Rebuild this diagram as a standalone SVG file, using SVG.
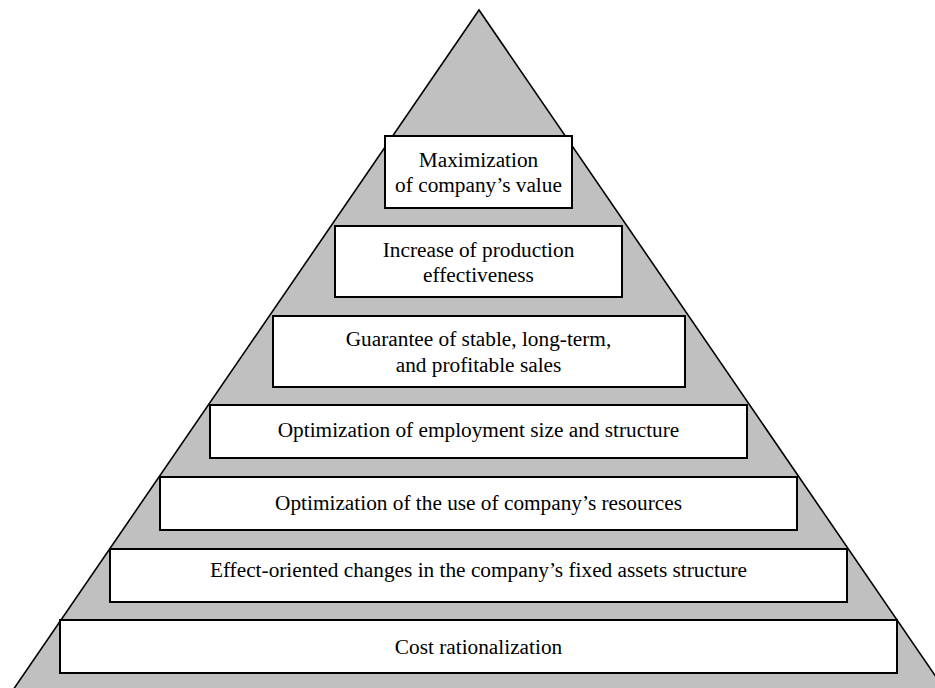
<svg xmlns="http://www.w3.org/2000/svg" width="935" height="688" viewBox="0 0 935 688">
<style>
.pyr{fill:#c0c0c0;stroke:#000;stroke-width:1.6}
.box{fill:#fff;stroke:#000;stroke-width:2}
.t{font-family:"Liberation Serif","Times New Roman",serif;font-size:21.3px;fill:#000;text-anchor:middle}
</style>
<rect width="935" height="688" fill="#fff"/>
<polygon class="pyr" points="479,10 13,690 945,690"/>
<g id="node1"><rect class="box" x="385" y="136" width="187" height="72"/><text class="t" x="478.5" y="167">Maximization</text><text class="t" x="478.5" y="192">of company’s value</text></g>
<g id="node2"><rect class="box" x="335" y="226" width="287" height="71"/><text class="t" x="478.5" y="257">Increase of production</text><text class="t" x="478.5" y="282">effectiveness</text></g>
<g id="node3"><rect class="box" x="273" y="316" width="412" height="71"/><text class="t" x="478.5" y="346">Guarantee of stable, long-term,</text><text class="t" x="478.5" y="372">and profitable sales</text></g>
<g id="node4"><rect class="box" x="210" y="405" width="537" height="53"/><text class="t" x="478.5" y="437">Optimization of employment size and structure</text></g>
<g id="node5"><rect class="box" x="160" y="477" width="637" height="53"/><text class="t" x="478.5" y="510">Optimization of the use of company’s resources</text></g>
<g id="node6"><rect class="box" x="110" y="549" width="737" height="53"/><text class="t" x="478.5" y="577">Effect-oriented changes in the company’s fixed assets structure</text></g>
<g id="node7"><rect class="box" x="60" y="620" width="837" height="53"/><text class="t" x="478.5" y="654">Cost rationalization</text></g>
<g id="connectors"></g>
</svg>
